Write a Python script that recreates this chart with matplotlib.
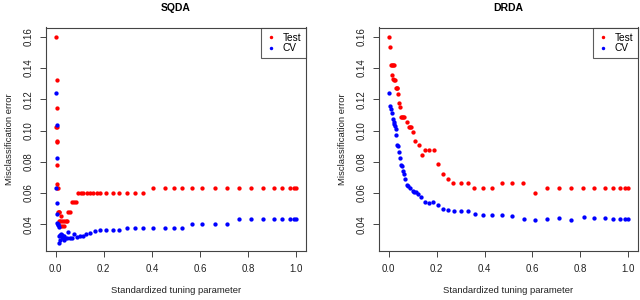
import matplotlib
matplotlib.use("Agg")
import matplotlib.pyplot as plt

plt.rcParams['font.family'] = ['Liberation Sans', 'DejaVu Sans']

# ---------------- data ----------------
sqda_test_x = [0.003, 0.004, 0.004, 0.003, 0.004, 0.004, 0.005, 0.005, 0.006, 0.006,
               0.008, 0.008, 0.012, 0.016, 0.014, 0.019, 0.022, 0.020, 0.026, 0.028,
               0.033, 0.036, 0.042, 0.048, 0.052, 0.060, 0.068, 0.076, 0.085, 0.094,
               0.104, 0.115, 0.129, 0.143, 0.157, 0.171, 0.184, 0.209, 0.237, 0.265,
               0.298, 0.330, 0.364, 0.406, 0.454, 0.492, 0.526, 0.565, 0.608, 0.663,
               0.713, 0.763, 0.810, 0.861, 0.907, 0.942, 0.975, 0.992, 1.000]
sqda_test_y = [0.160, 0.1325, 0.1145, 0.1025, 0.1020, 0.0935, 0.0930, 0.0780, 0.0660, 0.0630,
               0.0630, 0.0480, 0.0480, 0.0480, 0.0420, 0.0420, 0.0450, 0.0390, 0.0420, 0.0390,
               0.0420, 0.0390, 0.0420, 0.0420, 0.0480, 0.0480, 0.0540, 0.0540, 0.0540, 0.0600,
               0.0600, 0.0600, 0.0600, 0.0600, 0.0600, 0.0600, 0.0600, 0.0600, 0.0600, 0.0600,
               0.0600, 0.0600, 0.0600, 0.0630, 0.0630, 0.0630, 0.0630, 0.0630, 0.0630, 0.0630,
               0.0630, 0.0630, 0.0630, 0.0630, 0.0630, 0.0630, 0.0630, 0.0630, 0.0630]

sqda_cv_x = [0.003, 0.004, 0.004, 0.003, 0.005, 0.005, 0.006, 0.008, 0.010, 0.012,
             0.014, 0.016, 0.018, 0.020, 0.022, 0.025, 0.028, 0.030, 0.033, 0.036,
             0.040, 0.046, 0.052, 0.060, 0.068, 0.078, 0.090, 0.100, 0.112, 0.127,
             0.143, 0.163, 0.184, 0.209, 0.237, 0.265, 0.298, 0.330, 0.364, 0.406,
             0.454, 0.492, 0.526, 0.565, 0.608, 0.663, 0.713, 0.763, 0.810, 0.861,
             0.907, 0.942, 0.975, 0.992, 1.000]
sqda_cv_y = [0.1243, 0.1035, 0.0825, 0.0630, 0.0535, 0.0465, 0.0410, 0.0405, 0.0395, 0.0385,
             0.0325, 0.0283, 0.0330, 0.0300, 0.0335, 0.0320, 0.0330, 0.0310, 0.0325, 0.0300,
             0.0315, 0.0310, 0.0348, 0.0315, 0.0310, 0.0340, 0.0318, 0.0322, 0.0328, 0.0338,
             0.0346, 0.0356, 0.0364, 0.0366, 0.0366, 0.0366, 0.0375, 0.0375, 0.0375, 0.0375,
             0.0375, 0.0375, 0.0375, 0.0405, 0.0405, 0.0405, 0.0405, 0.0434, 0.0434, 0.0434,
             0.0434, 0.0434, 0.0434, 0.0434, 0.0434]

drda_test_x = [0.000, 0.007, 0.011, 0.015, 0.019, 0.023, 0.015, 0.019, 0.022, 0.025,
               0.029, 0.033, 0.037, 0.039, 0.042, 0.047, 0.050, 0.055, 0.060, 0.066,
               0.076, 0.085, 0.090, 0.095, 0.101, 0.111, 0.125, 0.138, 0.152, 0.170,
               0.189, 0.204, 0.226, 0.247, 0.270, 0.300, 0.330, 0.358, 0.392, 0.431,
               0.472, 0.515, 0.562, 0.610, 0.659, 0.709, 0.760, 0.809, 0.857, 0.902,
               0.936, 0.967, 0.986, 1.000]
drda_test_y = [0.1600, 0.1536, 0.1420, 0.1420, 0.1420, 0.1420, 0.1356, 0.1330, 0.1324, 0.1324,
               0.1270, 0.1270, 0.1270, 0.1233, 0.1175, 0.1148, 0.1086, 0.1086, 0.1086, 0.1086,
               0.1056, 0.1024, 0.1024, 0.1024, 0.0994, 0.0935, 0.0905, 0.0844, 0.0876, 0.0876,
               0.0876, 0.0784, 0.0725, 0.0693, 0.0665, 0.0665, 0.0665, 0.0631, 0.0631, 0.0631,
               0.0665, 0.0665, 0.0665, 0.0600, 0.0631, 0.0631, 0.0631, 0.0631, 0.0631, 0.0631,
               0.0631, 0.0631, 0.0631, 0.0631]

drda_cv_x = [0.000, 0.007, 0.011, 0.015, 0.018, 0.021, 0.024, 0.026, 0.029, 0.032,
             0.036, 0.039, 0.042, 0.046, 0.051, 0.054, 0.058, 0.064, 0.069, 0.076,
             0.083, 0.090, 0.100, 0.108, 0.115, 0.123, 0.137, 0.153, 0.168, 0.187,
             0.205, 0.226, 0.247, 0.272, 0.300, 0.330, 0.359, 0.395, 0.431, 0.473,
             0.516, 0.563, 0.610, 0.660, 0.709, 0.760, 0.813, 0.857, 0.902, 0.936,
             0.967, 0.986, 1.000]
drda_cv_y = [0.1243, 0.1160, 0.1137, 0.1112, 0.1073, 0.1058, 0.1044, 0.1027, 0.1010, 0.0973,
             0.0910, 0.0900, 0.0860, 0.0825, 0.0778, 0.0772, 0.0744, 0.0719, 0.0693, 0.0650,
             0.0644, 0.0634, 0.0612, 0.0606, 0.0606, 0.0593, 0.0576, 0.0544, 0.0534, 0.0544,
             0.0523, 0.0500, 0.0489, 0.0483, 0.0483, 0.0483, 0.0468, 0.0460, 0.0460, 0.0458,
             0.0453, 0.0436, 0.0430, 0.0436, 0.0442, 0.0430, 0.0449, 0.0440, 0.0440, 0.0436,
             0.0436, 0.0436, 0.0436]

titles = ["SQDA", "DRDA"]
x_ticks = [0.0, 0.2, 0.4, 0.6, 0.8, 1.0]
y_ticks = [0.04, 0.06, 0.08, 0.10, 0.12, 0.14, 0.16]
legend_labels = ["Test", "CV"]
xlabel = "Standardized tuning parameter"
ylabel = "Misclassification error"

# ---------------- figure ----------------
fig = plt.figure(figsize=(6.4, 3.0), dpi=100)
W, H = 640, 300
boxes = [(46, 306, 27.5, 251), (379, 638, 27.5, 251)]
panels = [(sqda_test_x, sqda_test_y, sqda_cv_x, sqda_cv_y),
          (drda_test_x, drda_test_y, drda_cv_x, drda_cv_y)]

for (l, r, t, b), (tx, ty, cx, cy), title in zip(boxes, panels, titles):
    ax = fig.add_axes([l / W, 1 - b / H, (r - l) / W, (b - t) / H])
    h1, = ax.plot(tx, ty, linestyle='none', marker='o', markersize=3.1,
                  markeredgewidth=0, color='#FF0000')
    h2, = ax.plot(cx, cy, linestyle='none', marker='o', markersize=3.1,
                  markeredgewidth=0, color='#0000FF')
    ax.set_xlim(-0.04, 1.04)
    ax.set_ylim(0.0229, 0.1660)
    ax.set_xticks(x_ticks)
    ax.set_xticklabels([f"{v:.1f}" for v in x_ticks])
    ax.set_yticks(y_ticks)
    ax.set_yticklabels([f"{v:.2f}" for v in y_ticks], rotation=90, va='center')
    for s in ax.spines.values():
        s.set_color('#444444')
        s.set_linewidth(0.8)
    ax.tick_params(axis='both', length=4.5, width=0.7, color='#444444',
                   labelsize=7, labelcolor='#222222', pad=4.5)
    ax.set_title(title, fontsize=7.5, fontweight='bold', y=1.0, pad=12)
    ax.set_xlabel(xlabel, fontsize=6.8, labelpad=9, color='#222222')
    ax.set_ylabel(ylabel, fontsize=6.8, labelpad=7, color='#222222')
    leg = ax.legend([h1, h2], legend_labels, loc='upper right', fontsize=7.3,
                    frameon=True, fancybox=False, borderaxespad=0,
                    handlelength=1.0, handletextpad=0.6, borderpad=0.5,
                    labelspacing=0.05, markerscale=0.8)
    leg.get_frame().set_edgecolor('#333333')
    leg.get_frame().set_linewidth(0.8)

fig.savefig("out.png", dpi=100)
